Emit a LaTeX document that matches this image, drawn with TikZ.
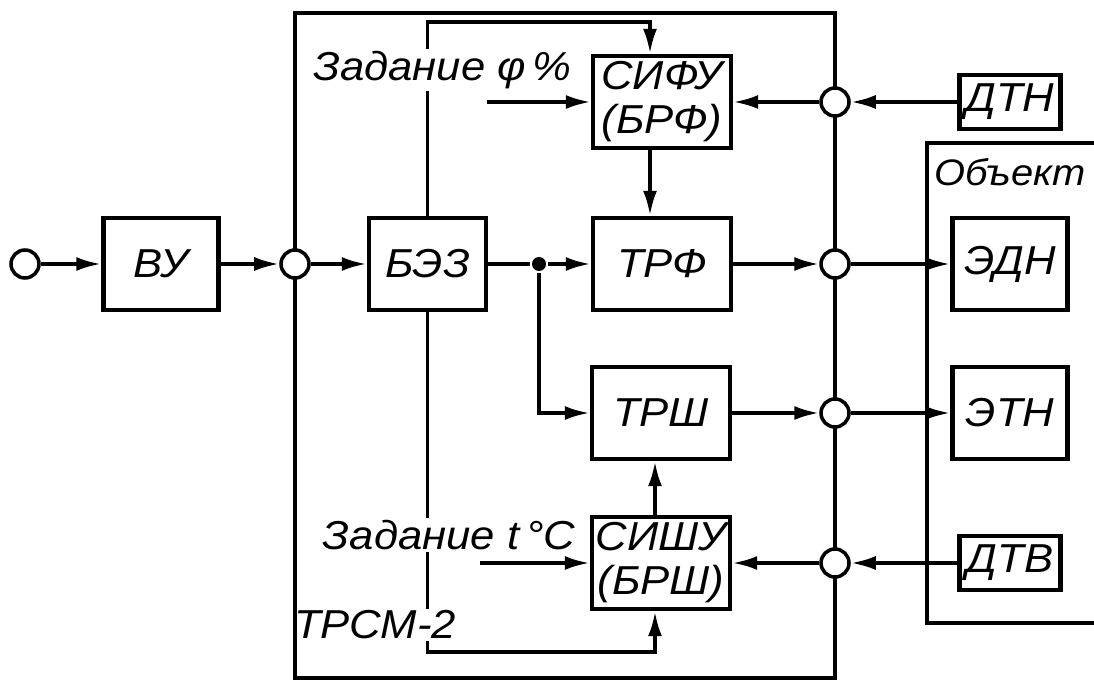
\documentclass[tikz,border=0pt]{standalone}
\usepackage{fontspec}
\setmainfont{Liberation Sans}[FakeStretch=1.08]
\usetikzlibrary{arrows.meta,positioning,calc}

\begin{document}
\begin{tikzpicture}[
  blk/.style={draw,line width=2.5pt,fill=white,minimum width=2.76cm,minimum height=1.84cm,
              inner sep=0pt,align=center,font=\fontsize{23}{25}\selectfont\itshape},
  sens/.style={draw,line width=2.5pt,fill=white,minimum width=2.02cm,minimum height=1.08cm,
               inner sep=0pt,font=\fontsize{23}{25}\selectfont\itshape},
  sum/.style={circle,draw,line width=2pt,fill=white,minimum size=0.56cm,inner sep=0pt},
  lbl/.style={fill=white,inner sep=1pt,font=\fontsize{23}{25}\selectfont\itshape},
  line width=2.1pt,
  >={Latex[length=5mm,width=2.8mm]},
]
\useasboundingbox (0,0) rectangle (21.88,13.62);
\node[blk,minimum width=2.3cm] (vu)    at (3.22,8.34)  {ВУ};
\node[blk,minimum width=2.34cm] (bez)  at (8.55,8.34)  {БЭЗ};
\node[blk] (trf)   at (13.24,8.34) {ТРФ};
\node[blk] (sifu)  at (13.24,11.58) {СИФУ\\(БРФ)};
\node[blk] (trsh)  at (13.22,5.36) {ТРШ};
\node[blk] (sishu) at (13.22,2.36) {СИШУ\\(БРШ)};
\node[sens] (dtn)  at (20.2,11.58) {ДТН};
\node[sens] (dtv)  at (20.2,2.36)  {ДТВ};
\node[blk,minimum width=2.3cm] (edn) at (20.2,8.34) {ЭДН};
\node[blk,minimum width=2.3cm] (etn) at (20.2,5.36) {ЭТН};
\node[font=\fontsize{21}{23}\selectfont\itshape] (obj) at (20.2,10.18) {Объект};
\node[circle,fill,inner sep=0pt,minimum size=0.28cm] (j) at (10.78,8.34) {};
\coordinate (ft) at (13.0,13.18);
\coordinate (fb) at (13.1,0.58);
\coordinate (zf) at (9.74,11.58);
\coordinate (zt) at (9.6,2.36);
\draw[->] (bez.north) |- (ft) -- (ft |- sifu.north);
\draw[->] (bez.south) |- (fb) -- (fb |- sishu.south);
\draw[->] (sifu.south -| ft) -- (trf.north -| ft);
\draw[->] (sishu.north -| fb) -- (trsh.south -| fb);
\node[lbl] (zadf) at (8.85,12.22) {Задание φ\,\%};
\node[lbl] (zadt) at (8.98,2.92)  {Задание t\,°C};
\node[lbl] (trsm) at (7.5,1.12)   {ТРСМ-2};
\draw[->] (zf) -- (sifu);
\draw[->] (zt) -- (sishu);
\draw[line width=2.5pt] (5.9,0.06) rectangle (16.7,13.36);
\draw[line width=2.2pt] (21.88,10.76) -- (18.54,10.76) -- (18.54,1.16) -- (21.88,1.16);
\node[sum] (in) at (0.5,8.34) {};
\node[sum] (s1) at (5.9,8.34) {};
\node[sum] (c1) at (16.7,11.58) {};
\node[sum] (c2) at (16.7,8.34) {};
\node[sum] (c3) at (16.7,5.36) {};
\node[sum] (c4) at (16.7,2.36) {};
\draw[->] (in) -- (vu);
\draw[->] (vu) -- (s1);
\draw[->] (s1) -- (bez);
\draw (bez) -- (j);
\draw[->] (j) -- (trf);
\draw[->] (j) |- (trsh);
\draw[->] (trf) -- (c2);
\draw[->] (c2) -- (edn);
\draw[->] (trsh) -- (c3);
\draw[->] (c3) -- (etn);
\draw[->] (dtn) -- (c1);
\draw[->] (c1) -- (sifu);
\draw[->] (dtv) -- (c4);
\draw[->] (c4) -- (sishu);
\end{tikzpicture}
\end{document}
